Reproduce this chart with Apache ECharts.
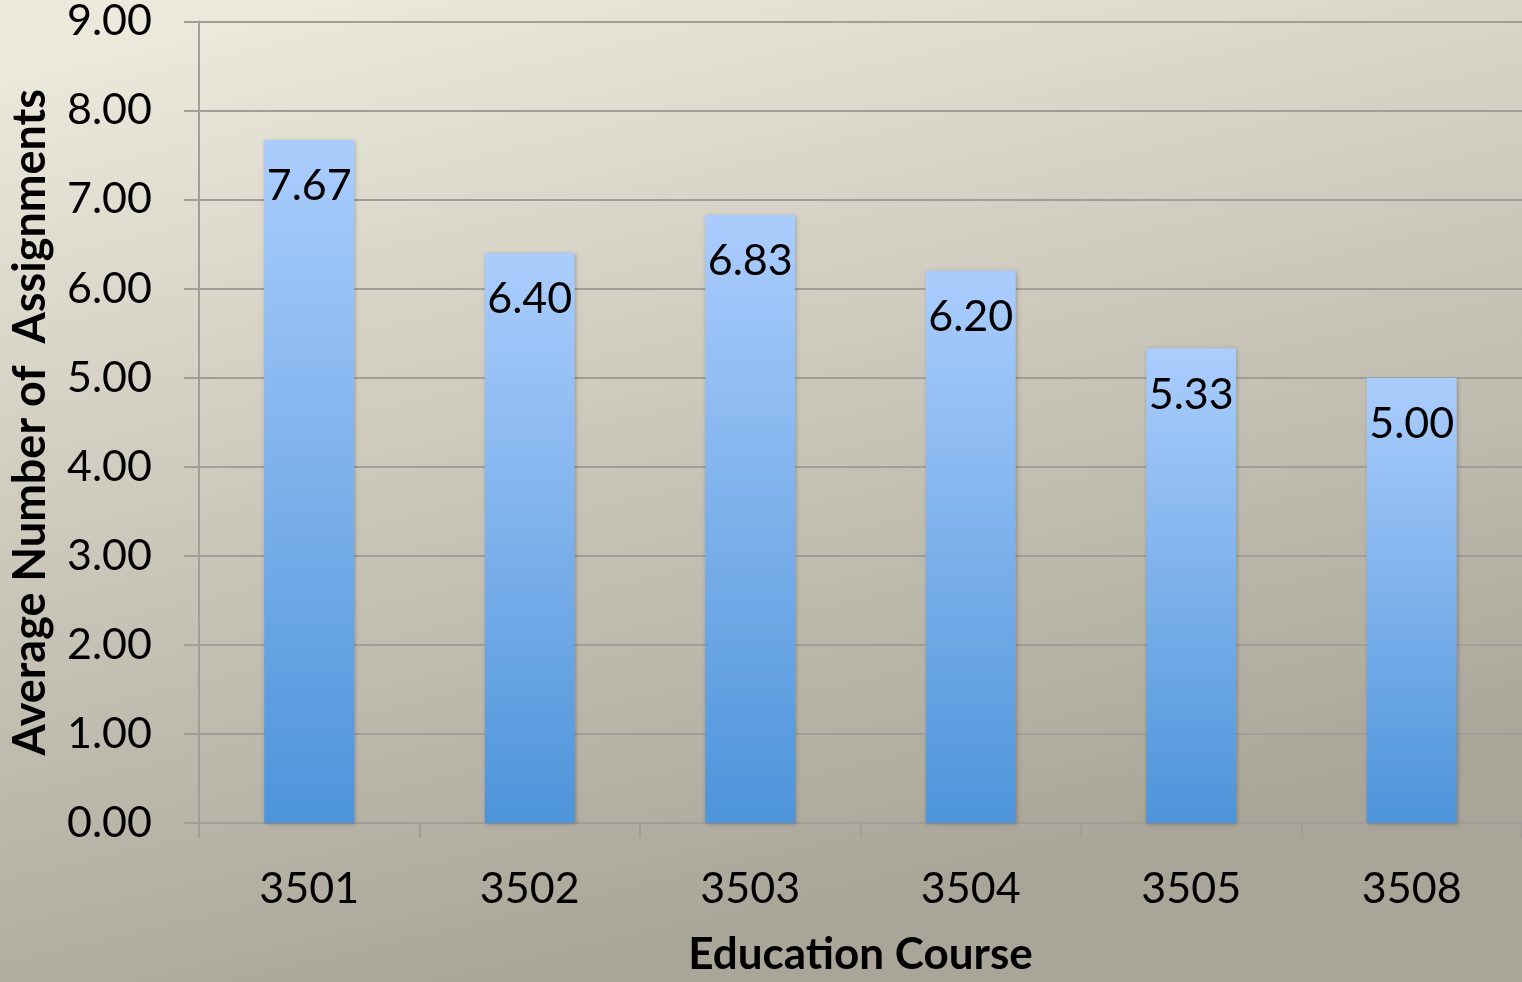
<!DOCTYPE html>
<html>
<head>
<meta charset="utf-8">
<style>
  html, body { margin: 0; padding: 0; }
  #chart { width: 1522px; height: 982px; }
</style>
<script src="https://cdn.jsdelivr.net/npm/echarts@6/dist/echarts.min.js"></script>
</head>
<body>
<div id="chart"></div>
<script>
"use strict";

const courses = ["3501", "3502", "3503", "3504", "3505", "3508"];
const averages = [7.67, 6.40, 6.83, 6.20, 5.33, 5.00];
const yMin = 0;
const yMax = 9;
const yStep = 1;

const font = "Lato, 'Open Sans', sans-serif";
const line = "#a09e98";

const chart = echarts.init(document.getElementById("chart"), null, { renderer: "canvas" });

chart.setOption({
  animation: false,
  backgroundColor: new echarts.graphic.LinearGradient(0.2, 0, 0.35, 1, [
    { offset: 0, color: "#ebe8dc" },
    { offset: 1, color: "#a9a598" },
  ]),
  textStyle: { fontFamily: font, color: "#000" },
  grid: { left: 196, right: 0, top: 18, bottom: 152, containLabel: false },
  xAxis: {
    type: "category",
    data: courses,
    name: "Education Course",
    nameLocation: "middle",
    nameGap: 110,
    nameTextStyle: { fontSize: 44, fontWeight: "bold", color: "#000", fontFamily: font, verticalAlign: "top" },
    axisLine: { lineStyle: { color: line, width: 2 } },
    axisTick: { show: true, length: 15, lineStyle: { color: line, width: 2 } },
    axisLabel: { fontSize: 43, color: "#000", margin: 45, fontFamily: font },
  },
  yAxis: {
    type: "value",
    min: yMin,
    max: yMax,
    interval: yStep,
    name: "Average Number of  Assignments",
    nameLocation: "middle",
    nameGap: 146,
    nameTextStyle: { fontSize: 45, fontWeight: "bold", color: "#000", fontFamily: font },
    axisLine: { show: true, lineStyle: { color: line, width: 2 } },
    axisTick: { show: true, length: 15, lineStyle: { color: line, width: 2 } },
    axisLabel: { fontSize: 43, color: "#000", margin: 47, fontFamily: font, formatter: (v) => v.toFixed(2) },
    splitLine: { lineStyle: { color: line, width: 2 } },
  },
  series: [{
    type: "bar",
    data: averages,
    barWidth: 90,
    itemStyle: {
      color: new echarts.graphic.LinearGradient(0, 0, 0, 1, [
        { offset: 0, color: "#abcdfd" },
        { offset: 1, color: "#4d94da" },
      ]),
      shadowColor: "rgba(0,0,0,0.25)",
      shadowBlur: 4,
      shadowOffsetX: 1,
      shadowOffsetY: 1,
    },
    label: {
      show: true,
      position: "insideTop",
      distance: 25,
      fontSize: 43,
      color: "#000",
      fontFamily: font,
      formatter: (p) => p.value.toFixed(2),
    },
  }],
});

window.addEventListener("resize", () => chart.resize());
</script>
</body>
</html>
